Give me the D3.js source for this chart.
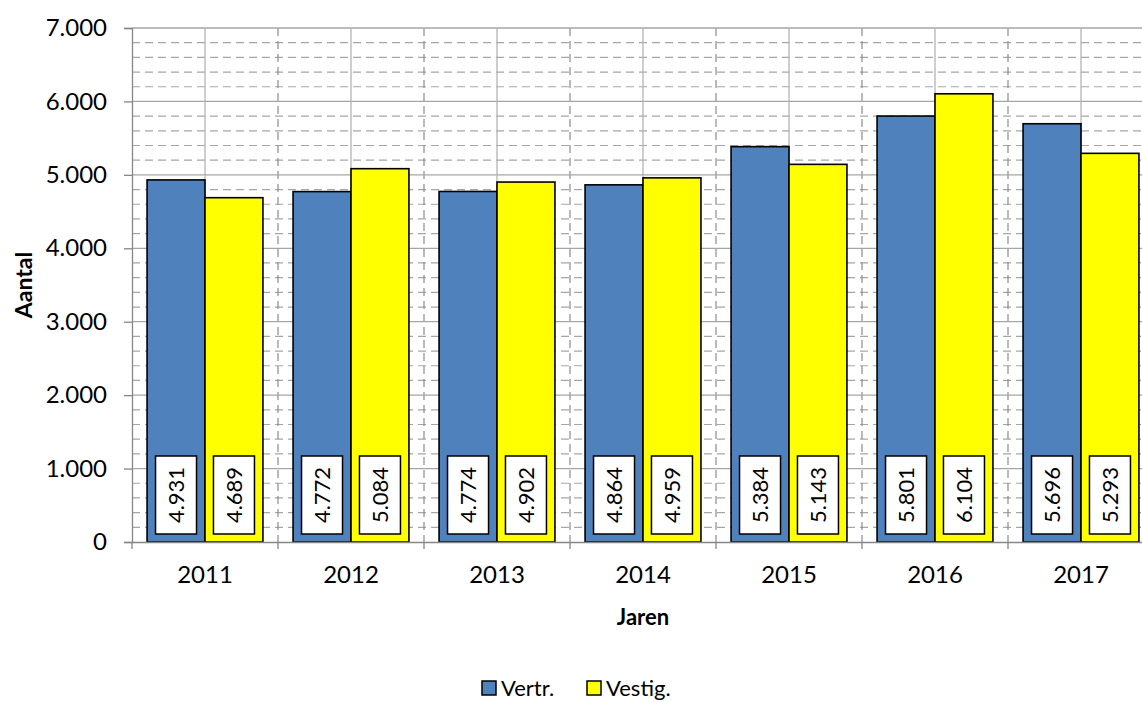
<!DOCTYPE html>
<html>
<head>
<meta charset="utf-8">
<script src="https://cdn.jsdelivr.net/npm/d3@7"></script>
<style>
  body { margin: 0; background: #fff; }
  svg text { font-family: Lato, "Open Sans", sans-serif; fill: #000; }
</style>
</head>
<body>
<div id="chart"></div>
<script>
// Chart data
var years = ["2011", "2012", "2013", "2014", "2015", "2016", "2017"];
var seriesNames = ["Vertr.", "Vestig."];
var vertr = [4931, 4772, 4774, 4864, 5384, 5801, 5696];
var vestig = [4689, 5084, 4902, 4959, 5143, 6104, 5293];
var yTicks = [0, 1000, 2000, 3000, 4000, 5000, 6000, 7000];

var colors = { "Vertr.": "#4F81BD", "Vestig.": "#FFFF00" };

// SVG size and plot area
var width = 1142;
var height = 702;
var plotLeft = 132;
var plotRight = 1154;   // plot runs past the window edge, like the original
var plotTop = 28;
var plotBottom = 542;

var svg = d3.select("#chart")
    .append("svg")
    .attr("width", width)
    .attr("height", height);

var nl = d3.formatLocale({ decimal: ",", thousands: ".", grouping: [3], currency: ["", ""] });
var fmt = nl.format(",d");

// Scales
var xScale = d3.scaleBand()
    .domain(years)
    .range([plotLeft, plotRight])
    .padding(0);

var xInner = d3.scaleBand()
    .domain(seriesNames)
    .range([0, xScale.bandwidth()])
    .paddingInner(0)
    .paddingOuter(0.26);

var yScale = d3.scaleLinear()
    .domain([0, 7000])
    .range([plotBottom, plotTop]);

// Gridlines
var grid = svg.append("g").attr("class", "grid");

// minor horizontal (dashed, every 200)
var minor = d3.range(0, 7001, 200).filter(function(v) { return v % 1000 !== 0; });
grid.selectAll("line.hminor").data(minor).enter()
    .append("line")
    .attr("x1", plotLeft).attr("x2", width)
    .attr("y1", function(d) { return yScale(d); })
    .attr("y2", function(d) { return yScale(d); })
    .attr("stroke", "#A6A6A6")
    .attr("stroke-width", 1.2)
    .attr("stroke-dasharray", "8,5");

// vertical dashed at category boundaries
grid.selectAll("line.vminor").data(years.slice(1)).enter()
    .append("line")
    .attr("x1", function(d) { return xScale(d); })
    .attr("x2", function(d) { return xScale(d); })
    .attr("y1", plotTop).attr("y2", plotBottom)
    .attr("stroke", "#8C8C8C")
    .attr("stroke-width", 1.2)
    .attr("stroke-dasharray", "8,5");

// major horizontal (solid)
grid.selectAll("line.hmajor").data(yTicks.slice(1)).enter()
    .append("line")
    .attr("x1", plotLeft).attr("x2", width)
    .attr("y1", function(d) { return yScale(d); })
    .attr("y2", function(d) { return yScale(d); })
    .attr("stroke", "#A6A6A6")
    .attr("stroke-width", 1.3);

// vertical solid at category centres
grid.selectAll("line.vmajor").data(years).enter()
    .append("line")
    .attr("x1", function(d) { return xScale(d) + xScale.bandwidth() / 2; })
    .attr("x2", function(d) { return xScale(d) + xScale.bandwidth() / 2; })
    .attr("y1", plotTop).attr("y2", plotBottom)
    .attr("stroke", "#B4B4B4")
    .attr("stroke-width", 1.3);

// Bars
var rows = years.map(function(y, i) {
  return { year: y, values: [
    { name: "Vertr.", value: vertr[i] },
    { name: "Vestig.", value: vestig[i] }
  ]};
});

var groups = svg.selectAll("g.year").data(rows).enter()
    .append("g")
    .attr("class", "year")
    .attr("transform", function(d) { return "translate(" + xScale(d.year) + ",0)"; });

groups.selectAll("rect.bar").data(function(d) { return d.values; }).enter()
    .append("rect")
    .attr("class", "bar")
    .attr("x", function(d) { return xInner(d.name); })
    .attr("width", xInner.bandwidth())
    .attr("y", function(d) { return yScale(d.value); })
    .attr("height", function(d) { return plotBottom - yScale(d.value); })
    .attr("fill", function(d) { return colors[d.name]; })
    .attr("stroke", "#000")
    .attr("stroke-width", 1.6);

// Value label boxes
var boxW = 41, boxH = 78, boxGap = 8;
var labels = groups.selectAll("g.lbl").data(function(d) { return d.values; }).enter()
    .append("g")
    .attr("class", "lbl")
    .attr("transform", function(d) {
      return "translate(" + (xInner(d.name) + xInner.bandwidth() / 2) + "," + (plotBottom - boxGap - boxH / 2) + ")";
    });

labels.append("rect")
    .attr("x", -boxW / 2).attr("y", -boxH / 2)
    .attr("width", boxW).attr("height", boxH)
    .attr("fill", "#fff")
    .attr("stroke", "#000")
    .attr("stroke-width", 1.5);

labels.append("text")
    .attr("transform", "rotate(-90)")
    .attr("text-anchor", "middle")
    .attr("dy", "0.36em")
    .attr("font-size", 22)
    .text(function(d) { return fmt(d.value); });

// Y axis
var yAxis = d3.axisLeft(yScale)
    .tickValues(yTicks)
    .tickSize(8)
    .tickPadding(17)
    .tickFormat(fmt);

var yG = svg.append("g")
    .attr("transform", "translate(" + plotLeft + ",0)")
    .call(yAxis);
yG.select(".domain").attr("stroke", "#868686").attr("stroke-width", 1.3);
yG.selectAll(".tick line").attr("stroke", "#868686").attr("stroke-width", 1.3);
yG.selectAll(".tick text").attr("font-size", 24).attr("font-family", "Lato");

// X axis
var xAxis = d3.axisBottom(xScale)
    .tickSize(0)
    .tickPadding(24);

var xG = svg.append("g")
    .attr("transform", "translate(0," + plotBottom + ")")
    .call(xAxis);
xG.select(".domain").attr("stroke", "#868686").attr("stroke-width", 1.3);
xG.selectAll(".tick text").attr("font-size", 24).attr("font-family", "Lato");

// x tick marks at category boundaries
xG.selectAll("line.bound").data(years).enter()
    .append("line")
    .attr("x1", function(d) { return xScale(d); })
    .attr("x2", function(d) { return xScale(d); })
    .attr("y1", 0).attr("y2", 7)
    .attr("stroke", "#868686")
    .attr("stroke-width", 1.3);

// Axis titles
svg.append("text")
    .attr("x", (plotLeft + plotRight) / 2)
    .attr("y", 625)
    .attr("text-anchor", "middle")
    .attr("font-size", 22)
    .attr("font-weight", "bold")
    .text("Jaren");

svg.append("text")
    .attr("transform", "translate(32," + (plotTop + plotBottom) / 2 + ")rotate(-90)")
    .attr("text-anchor", "middle")
    .attr("font-size", 23)
    .attr("font-weight", "bold")
    .text("Aantal");

// Legend
var legend = svg.append("g").attr("class", "legend");
var legendX = [482, 587];
var leg = legend.selectAll("g").data(seriesNames).enter()
    .append("g")
    .attr("transform", function(d, i) { return "translate(" + legendX[i] + ",681)"; });

leg.append("rect")
    .attr("width", 14).attr("height", 14)
    .attr("fill", function(d) { return colors[d]; })
    .attr("stroke", "#000")
    .attr("stroke-width", 1.5);

leg.append("text")
    .attr("x", 19)
    .attr("y", 7)
    .attr("dy", "0.36em")
    .attr("font-size", 22)
    .text(function(d) { return d; });
</script>
</body>
</html>
